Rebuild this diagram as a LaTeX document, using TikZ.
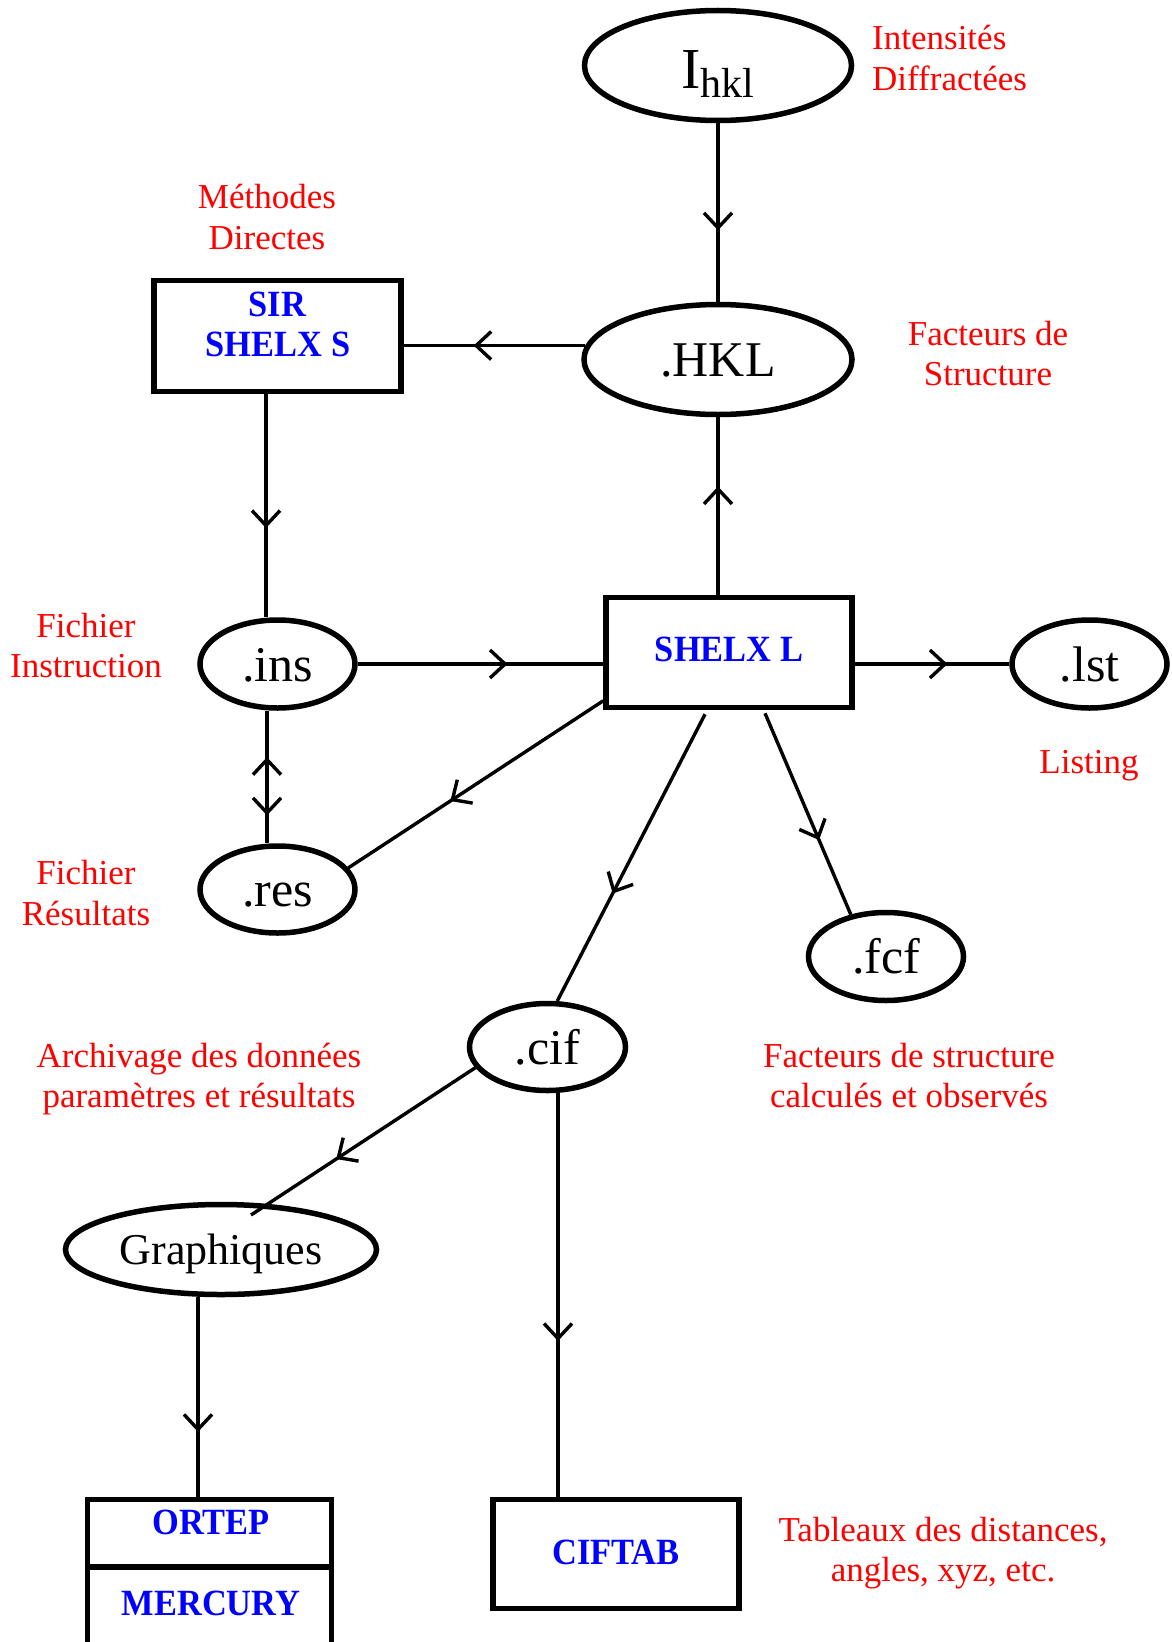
\documentclass[tikz,border=0pt]{standalone}
\usepackage{fontspec}
\usepackage{graphicx}
\setmainfont{Liberation Serif}
\usetikzlibrary{arrows.meta,decorations.markings,calc,shapes.geometric}
\newcommand\bluetxt[1]{\scalebox{0.93}[1]{#1}}
\begin{document}
\begin{tikzpicture}[x=1bp,y=-1bp,
  barb/.tip={Straight Barb[length=15bp,width=28bp]},
  ell/.style={draw, ellipse, line width=5.5bp, inner sep=0pt, text height=34bp, text depth=0pt,
    font=\fontsize{50bp}{56bp}\selectfont},
  fbox/.style={draw, rectangle, line width=5.5bp, inner sep=0pt, minimum width=246bp, minimum height=110bp},
  con/.style={line width=3.4bp},
  midarr/.style={postaction={decorate}, decoration={markings, mark=at position #1 with {\arrow{barb}}}},
  dblarr/.style={postaction={decorate}, decoration={markings,
     mark=at position 0.35 with {\arrowreversed{barb}},
     mark=at position 0.79 with {\arrow{barb}}}},
  redlab/.style={text=red, font=\fontsize{35bp}{40bp}\selectfont, inner sep=0pt, anchor=base},
  bluelab/.style={text=blue, font=\fontsize{37bp}{40bp}\selectfont\bfseries, inner sep=0pt, anchor=base},
]
\useasboundingbox (0,0) rectangle (1171,1642);
\clip (0,0) rectangle (1171,1642);

% ellipses
\node[ell, minimum width=267bp, minimum height=110bp, text height=45bp] (ihkl) at (718,65.5)
  {{\fontsize{58bp}{60bp}\selectfont I}\raisebox{-9bp}{\fontsize{42bp}{44bp}\selectfont hkl}};
\node[ell, minimum width=268bp, minimum height=110bp] (hkl) at (718,359.5) {.HKL};
\node[ell, minimum width=155bp, minimum height=88bp] (ins) at (277.5,664) {.ins};
\node[ell, minimum width=155bp, minimum height=87bp] (res) at (277.5,889.5) {.res};
\node[ell, minimum width=155bp, minimum height=88bp] (lst) at (1089.5,664) {.lst};
\node[ell, minimum width=155bp, minimum height=88bp] (fcf) at (886,956.5) {.fcf};
\node[ell, minimum width=156bp, minimum height=87bp] (cif) at (547.5,1047) {.cif};
\node[ell, minimum width=311bp, minimum height=90bp, text height=29bp,
  font=\fontsize{44bp}{50bp}\selectfont] (graph) at (221,1249.5) {Graphiques};

% boxes
\node[fbox, minimum width=247bp, minimum height=111bp] (sir) at (277.5,336) {};
\node[fbox] (shelxl) at (729,652.5) {};
\node[fbox, minimum height=109bp] (ciftab) at (616,1554) {};
\node[fbox, minimum width=244bp, minimum height=67.5bp] (ortep) at (209.5,1533.25) {};
\node[fbox, minimum width=244bp, minimum height=93bp] (mercury) at (209.5,1613.5) {};

% box labels
\node[bluelab] (sirt1) at (277.5,316) {\bluetxt{SIR}};
\node[bluelab] (sirt2) at (278,356) {\bluetxt{SHELX S}};
\node[bluelab] (shlt) at (729,661) {\bluetxt{SHELX L}};
\node[bluelab] (ortt) at (211,1534) {\bluetxt{ORTEP}};
\node[bluelab] (mert) at (211,1615) {\bluetxt{MERCURY}};
\node[bluelab] (cift) at (616,1564) {\bluetxt{CIFTAB}};

% red labels
\node[redlab, anchor=base west] (int1) at (872,50) {Intensités};
\node[redlab, anchor=base west] (int2) at (872,90) {Diffractées};
\node[redlab] (met1) at (267,208) {Méthodes};
\node[redlab] (met2) at (267,249) {Directes};
\node[redlab] (fac1) at (988,345) {Facteurs de};
\node[redlab] (fac2) at (988,385) {Structure};
\node[redlab] (fi1) at (86,637) {Fichier};
\node[redlab] (fi2) at (86,677) {Instruction};
\node[redlab] (fr1) at (86,884) {Fichier};
\node[redlab] (fr2) at (86,925) {Résultats};
\node[redlab] (lis) at (1089,773) {Listing};
\node[redlab] (arc1) at (199,1067) {Archivage des données};
\node[redlab] (arc2) at (199,1107) {paramètres et résultats};
\node[redlab] (fs1) at (909,1067) {Facteurs de structure};
\node[redlab] (fs2) at (909,1107) {calculés et observés};
\node[redlab] (tab1) at (943,1541) {Tableaux des distances,};
\node[redlab] (tab2) at (943,1581) {angles, xyz, etc.};

% connectors
\draw[con, midarr=0.6] (ihkl) -- (hkl);
\draw[con, midarr=0.615] (hkl.174.6) -- (hkl.174.6 -| sir.east);
\draw[con, midarr=0.6] ([xshift=-11.5bp]sir.south) -- ([xshift=-11.5bp]sir.south |- ins.north);
\draw[con, midarr=0.61] (ins.east) -- (ins.east -| shelxl.west);
\draw[con, midarr=0.61] (shelxl.north -| hkl.south) -- (hkl.south);
\draw[con, midarr=0.6] (lst.west -| shelxl.east) -- (lst.west);
\draw[con, midarr=0.6] (shelxl.201.7) -- (res.17.5);
\draw[con, dblarr] ([xshift=-10.5bp]ins.south) -- ([xshift=-10.5bp]res.north);
\draw[con, midarr=0.63] ([xshift=36bp,yshift=-3bp]shelxl.south) -- (fcf.130);
\draw[con, midarr=0.625] ([xshift=-24bp,yshift=-4bp]shelxl.south) -- (cif.78.6);
\coordinate (gtop) at ($(graph.center)+(30,-34.5)$);
\draw[con, midarr=0.62] (cif.196.6) -- (gtop);
\draw[con, midarr=0.614] ([xshift=10.5bp]cif.south) -- ([xshift=10.5bp]cif.south |- ciftab.north);
\draw[con, midarr=0.675] ([xshift=-23bp]graph.south) -- ([xshift=-23bp]graph.south |- ortep.north);
\end{tikzpicture}
\end{document}
